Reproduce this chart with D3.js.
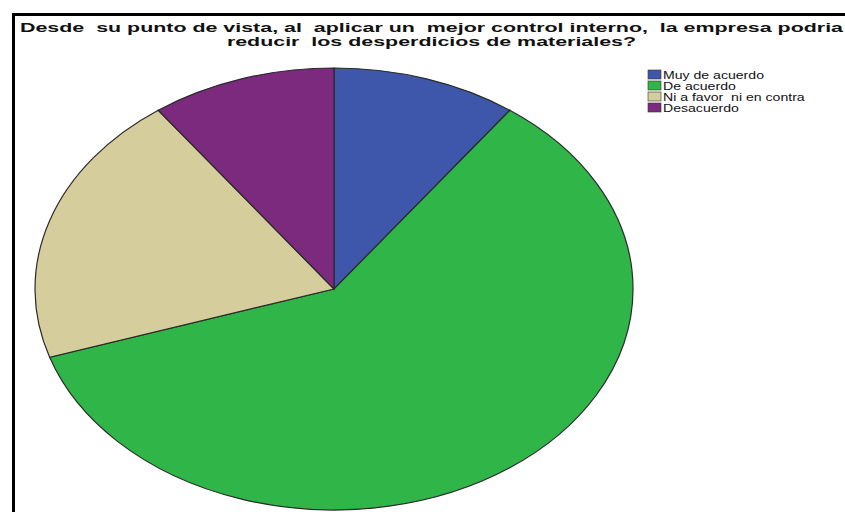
<!DOCTYPE html>
<html>
<head>
<meta charset="utf-8">
<script src="https://cdn.jsdelivr.net/npm/d3@7"></script>
<style>
  html, body { margin: 0; padding: 0; background: #fff; }
  svg { display: block; font-family: "Liberation Sans", Arial, sans-serif; }
  svg text { white-space: pre; }
</style>
</head>
<body>
<svg id="chart" width="845" height="512"></svg>
<script>
// Response categories and their shares (%)
const categories = ["Muy de acuerdo", "De acuerdo", "Ni a favor  ni en contra", "Desacuerdo"];
const values = [10, 60, 20, 10];
const colors = ["#3f57aa", "#2fb548", "#d6cd9c", "#7b2a7e"];
const titleLines = [
  "Desde  su punto de vista, al  aplicar un  mejor control interno,  la empresa podria",
  "reducir  los desperdicios de materiales?"
];

const svg = d3.select("#chart");

// Frame: top and left rules
svg.append("line").attr("x1", 12).attr("x2", 845).attr("y1", 14.5).attr("y2", 14.5)
  .attr("stroke", "#000").attr("stroke-width", 3);
svg.append("line").attr("x1", 13.5).attr("x2", 13.5).attr("y1", 13).attr("y2", 512)
  .attr("stroke", "#000").attr("stroke-width", 3);

// Elliptical pie
const cx = 334, cy = 289, rx = 299, ry = 221;
const pie = d3.pie().sort(null).value(d => d.value);
const arc = d3.arc().innerRadius(0).outerRadius(1);
const data = categories.map((c, i) => ({ name: c, value: values[i], color: colors[i] }));

const pieG = svg.append("g")
  .attr("transform", `translate(${cx},${cy}) scale(${rx},${ry})`);
pieG.selectAll("path")
  .data(pie(data))
  .join("path")
  .attr("d", arc)
  .attr("fill", d => d.data.color)
  .attr("stroke", "#2a2a2a")
  .attr("stroke-width", 1.2)
  .attr("vector-effect", "non-scaling-stroke");

// Title: two bold centred lines, stretched horizontally
const titleX = 431.5;
const title = svg.append("g")
  .attr("font-weight", "bold").attr("font-size", 13.5).attr("fill", "#111")
  .attr("text-anchor", "middle");
const t1 = title.append("text").attr("x", titleX).attr("y", 32).text(titleLines[0]);
const t2 = title.append("text").attr("x", titleX).attr("y", 46).text(titleLines[1]);
const stretch = 823 / t1.node().getComputedTextLength();
[t1, t2].forEach(t => {
  const w = t.node().getComputedTextLength() * stretch;
  t.attr("textLength", w).attr("lengthAdjust", "spacingAndGlyphs");
});

// Legend
const legend = svg.append("g").attr("font-size", 11).attr("fill", "#111");
const rows = legend.selectAll("g")
  .data(data)
  .join("g")
  .attr("transform", (d, i) => `translate(648,${70 + i * 11})`);
rows.append("rect")
  .attr("width", 13).attr("height", 9)
  .attr("fill", d => d.color)
  .attr("stroke", "#333").attr("stroke-width", 0.6);
rows.append("text")
  .attr("x", 15).attr("y", 8.5)
  .text(d => d.name)
  .each(function () {
    const w = this.getComputedTextLength() * 1.28;
    d3.select(this).attr("textLength", w).attr("lengthAdjust", "spacingAndGlyphs");
  });
</script>
</body>
</html>
